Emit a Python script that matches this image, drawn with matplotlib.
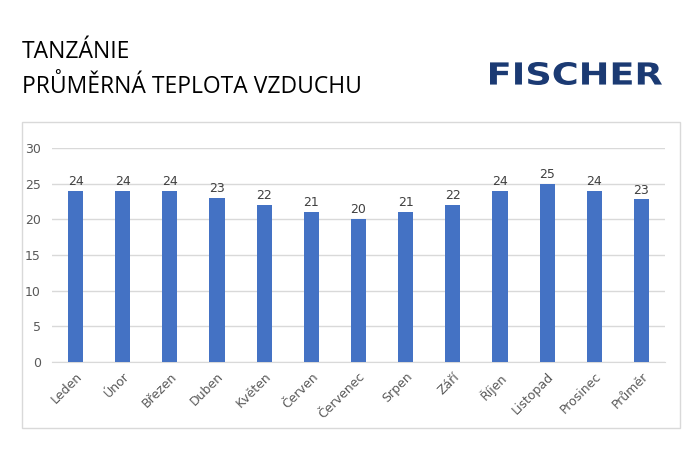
import matplotlib
matplotlib.use("Agg")
import matplotlib.pyplot as plt
from matplotlib.patches import Rectangle, PathPatch
from matplotlib.textpath import TextPath
from matplotlib.font_manager import FontProperties
from matplotlib.transforms import Affine2D

categories = ["Leden", "Únor", "Březen", "Duben", "Květen", "Červen", "Červenec",
              "Srpen", "Září", "Říjen", "Listopad", "Prosinec", "Průměr"]
values = [24, 24, 24, 23, 22, 21, 20, 21, 22, 24, 25, 24, 22.8]
labels = ["24", "24", "24", "23", "22", "21", "20", "21", "22", "24", "25", "24", "23"]
yticks = [0, 5, 10, 15, 20, 25, 30]

W, H = 700, 450
fig = plt.figure(figsize=(W/100, H/100), dpi=100)
fig.patch.set_facecolor("white")

# chart frame
fig.patches.append(Rectangle((22/W, 1-428/H), (680-22)/W, (428-122)/H,
                             transform=fig.transFigure, fill=False,
                             edgecolor="#d9d9d9", linewidth=1))

ax = fig.add_axes([52/W, 1-362/H, (665-52)/W, (362-148)/H])
x = list(range(len(categories)))
ax.bar(x, values, width=0.32, color="#4472C4", zorder=3)
for xi, v, lab in zip(x, values, labels):
    ax.text(xi, v + 0.4, lab, ha="center", va="bottom", fontsize=9, color="#404040")
ax.set_xlim(-0.5, len(categories) - 0.5)
ax.set_ylim(0, 30)
ax.set_yticks(yticks)
ax.set_xticks(x)
ax.set_xticklabels(categories, rotation=45, ha="right", rotation_mode="anchor",
                   fontsize=9, color="#595959")
ax.tick_params(axis="y", labelsize=9, labelcolor="#595959", length=0, pad=8)
ax.tick_params(axis="x", length=0, pad=6)
ax.grid(axis="y", color="#d9d9d9", linewidth=1, zorder=0)
for s in ["top", "right", "left"]:
    ax.spines[s].set_visible(False)
ax.spines["bottom"].set_color("#d9d9d9")

fig.text(22/W, 1-52/H, "TANZÁNIE", fontsize=16.5, family="Open Sans",
         va="center", ha="left", color="black")
fig.text(22/W, 1-87/H, "PRŮMĚRNÁ TEPLOTA VZDUCHU", fontsize=16.5, family="Open Sans",
         va="center", ha="left", color="black")

# logo text scaled to fit the box (490..662, 62..85 px from top)
tp = TextPath((0, 0), "FISCHER", size=100,
              prop=FontProperties(family="DejaVu Sans", weight="bold"))
bb = tp.get_extents()
x0, x1, ytop, ybot = 490, 662, 62, 85
sx = (x1 - x0) / bb.width
sy = (ybot - ytop) / bb.height
tr = Affine2D().translate(-bb.x0, -bb.y0).scale(sx, sy).translate(x0, H - ybot)
logo = PathPatch(tr.transform_path(tp), facecolor="#1b3a73", edgecolor="none",
                 transform=None)
fig.patches.append(logo)

fig.savefig("out.png", dpi=100)
